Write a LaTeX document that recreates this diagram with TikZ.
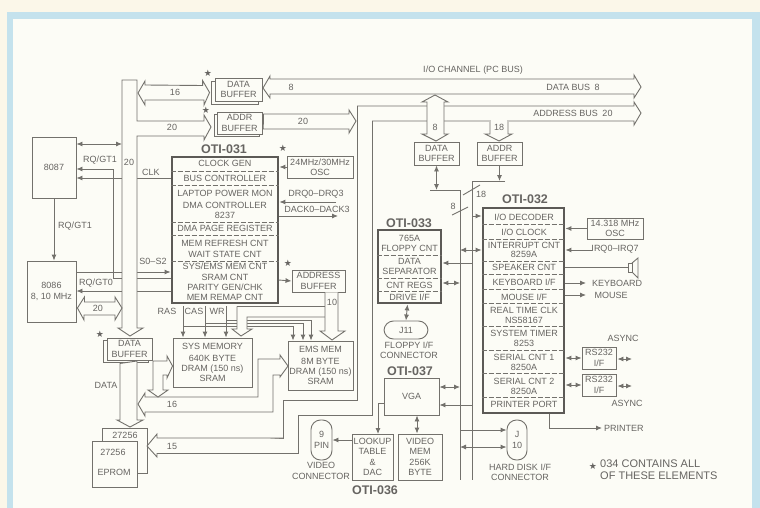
\documentclass[tikz,border=0pt]{standalone}
\usepackage{fontspec}
\setmainfont{Liberation Sans}
\newfontfamily\symfont{DejaVu Sans}
\usetikzlibrary{arrows.meta}
\definecolor{paper}{HTML}{FCFCF6}
\definecolor{edge}{HTML}{FBF7E9}
\definecolor{band}{HTML}{C4E2ED}
\definecolor{ink}{HTML}{73716C}
\definecolor{word}{HTML}{666461}
\tikzset{
  lbl/.style={font=\fontsize{9}{10.3}\selectfont,text=word,inner sep=0pt,align=center},
  chiptitle/.style={font=\bfseries\fontsize{12.5}{14}\selectfont,text=word,inner sep=0pt},
  box/.style={draw=ink,fill=paper,line width=0.9pt,inner sep=0pt,font=\fontsize{9}{10.3}\selectfont,text=word,align=center},
  chip/.style={draw=ink!80!black,line width=2.8pt,fill=paper,inner sep=0pt},
  pill/.style={box,rounded corners=9.5pt},
  wire/.style={draw=ink,line width=0.9pt},
  sig/.style={wire,-{Latex[length=6pt,width=5pt]}},
  bisig/.style={wire,{Latex[length=6pt,width=5pt]}-{Latex[length=6pt,width=5pt]}},
  bus/.style={draw=ink,line width=0.9pt,fill=paper,line join=miter},
  sep/.style={draw=ink,line width=0.8pt,dash pattern=on 5pt off 2pt},
  star/.style={font=\symfont\fontsize{9}{9}\selectfont,text=word,inner sep=0pt}
}
\begin{document}
\begin{tikzpicture}[x=1pt,y=-1pt]
\useasboundingbox (0,0) rectangle (760,508);
\fill[edge] (0,0) rectangle (760,508);
\fill[band] (7,12) rectangle (760,508);
\fill[paper] (13,19) rectangle (752,508);

\coordinate (ctlA) at (122,178);
\coordinate (ctlB) at (122,272);
\coordinate (ctlC) at (113,278);
\coordinate (ctlD) at (122,291);
\coordinate (snoop) at (113,169);

% chips
\node[chip,minimum width=106,minimum height=146] (oti31) at (225,230) {};
\node[chiptitle] (oti31t) at (224,149) {OTI-031};
\foreach \y/\txt in {163/CLOCK GEN,178/BUS CONTROLLER,193/LAPTOP POWER MON,205/DMA CONTROLLER,215/8237,228/DMA PAGE REGISTER,243/MEM REFRESH CNT,254/WAIT STATE CNT,266/{SYS/EMS MEM CNT},277/SRAM CNT,287/{PARITY GEN/CHK},297/MEM REMAP CNT}
  \node[lbl] (a\y) at (225,\y) {\txt};
\foreach \y in {171,185,222,235,261}
  \draw[sep] (oti31.west |- 0,\y) -- (oti31.east |- 0,\y);

\node[chip,minimum width=63,minimum height=73] (oti33) at (409.5,266.5) {};
\node[chiptitle] (oti33t) at (409,223) {OTI-033};
\foreach \y/\txt in {238/765A,248/FLOPPY CNT,261/DATA,271/SEPARATOR,285/CNT REGS,297/{DRIVE I/F}}
  \node[lbl] (c\y) at (409.5,\y) {\txt};
\foreach \y in {255,278,291}
  \draw[sep] (oti33.west |- 0,\y) -- (oti33.east |- 0,\y);

\node[chip,minimum width=81,minimum height=205] (oti32) at (523.5,310.5) {};
\node[chiptitle] (oti32t) at (525,199) {OTI-032};
\foreach \y/\txt in {217/{I/O DECODER},232/{I/O CLOCK},245/INTERRUPT CNT,254/8259A,267/SPEAKER CNT,282/{KEYBOARD I/F},297/{MOUSE I/F},310/REAL TIME CLK,320/NS58167,333/SYSTEM TIMER,343/8253,357/SERIAL CNT 1,367/8250A,381/SERIAL CNT 2,391/8250A,404/PRINTER PORT}
  \node[lbl] (b\y) at (524,\y) {\txt};
\foreach \y in {224,239,261,274,289,303,326,350,373,397}
  \draw[sep] (oti32.west |- 0,\y) -- (oti32.east |- 0,\y);

% boxes
\node[box,minimum width=44,minimum height=61] (fpu) at (54,167.5) {8087};
\node[box,minimum width=49,minimum height=61] (cpu) at (51.5,291.5) {8086\\8, 10 MHz};
\node[box,minimum width=66,minimum height=22] (osc) at (320,167) {24MHz/30MHz\\OSC};
\node[box,minimum width=53,minimum height=22] (adrbuf) at (318.5,281) {ADDRESS\\BUFFER};
\node[box,minimum width=79,minimum height=49] (sysmem) at (212.5,362.5) {SYS MEMORY\\[1.5pt]640K BYTE\\DRAM (150 ns)\\SRAM};
\node[box,minimum width=65,minimum height=49] (emsmem) at (320.5,365.5) {EMS MEM\\[1.5pt]8M BYTE\\DRAM (150 ns)\\SRAM};
\node[box,minimum width=45,minimum height=23] (dbufM) at (436.5,153.5) {DATA\\BUFFER};
\node[box,minimum width=45,minimum height=23] (abufM) at (499.5,153.5) {ADDR\\BUFFER};
\node[box,minimum width=55,minimum height=37] (vga) at (411.5,396.5) {VGA};
\node[box,minimum width=41,minimum height=46] (lookup) at (372.5,457) {LOOKUP\\TABLE\\\&\\DAC};
\node[box,minimum width=44,minimum height=46] (vidmem) at (420,457) {VIDEO\\MEM\\256K\\BYTE};
\node[box,minimum width=56,minimum height=21] (osc32) at (615,228.5) {14.318 MHz\\OSC};
\node[box,minimum width=34,minimum height=22] (rsA) at (599,358) {RS232\\I/F};
\node[box,minimum width=34,minimum height=22] (rsB) at (599,385) {RS232\\I/F};
\node[pill,minimum width=44,minimum height=18] (jeleven) at (406,330) {J11};
\node[pill,minimum width=21,minimum height=40] (ninepin) at (321.5,440) {9\\PIN};
\node[pill,minimum width=20,minimum height=40] (jten) at (517,440) {J\\10};

% shadowed buffers
\node[box,minimum width=47,minimum height=23] (dbufTs) at (234.5,92.5) {};
\node[box,minimum width=47,minimum height=23] (dbufT) at (238.5,89.5) {DATA\\BUFFER};
\node[box,minimum width=45,minimum height=22] (abufTs) at (236.5,125) {};
\node[box,minimum width=45,minimum height=22] (abufT) at (239.5,123) {ADDR\\BUFFER};
\node[box,minimum width=45,minimum height=22] (dbufLs) at (125.5,351) {};
\node[box,minimum width=45,minimum height=22] (dbufL) at (129.5,349) {DATA\\BUFFER};

% eprom pair
\node[box,minimum width=45,minimum height=45] (romB) at (124.5,450.5) {};
\node[lbl] (romBt) at (125,435) {27256};
\node[box,minimum width=45,minimum height=46] (romA) at (114.5,464) {};
\node[lbl] (romAt) at (113,452) {27256};
\node[lbl] (romAe) at (114,472) {EPROM};

% thin lines crossing the left bus
\draw[sig] (oti31.west |- ctlA) -- (fpu.east |- ctlA);
\draw[sig] (snoop) -- (fpu.east |- snoop);
\draw[wire] (snoop) -- (ctlC);
\draw[wire] (ctlC) -- (oti31.west |- ctlC);
\draw[sig] (cpu.east |- ctlB) -- (oti31.west |- ctlB);
\draw[sig] (oti31.west |- ctlD) -- (cpu.east |- ctlD);

% left bus
\draw[bus] (122,336) ++(-4,-8) -- (122,328) -- (122,80) -- (137,80) -- (137,121) -- (204,121) -- (204,115) -- (211,127) -- (204,140) -- (204,136) -- (137,136) -- (137,328) -- (143,328) -- (130,336) -- cycle;
\draw[bus] (dbufTs.west) ++(-1,0) -- ++(-7,-12) -- ++(0,5) -- (145,85) -- (145,81) -- (138,93) -- (145,105) -- (145,100) -- (204,100) -- (204,105) -- cycle;
\draw[bisig] (fpu.east |- 0,144) -- (122,144);
\draw[bus] (cpu.east |- 0,308) ++(1,0) -- ++(7,-11) -- ++(0,5) -- (115,302) -- (115,297) -- (122,308) -- (115,320) -- (115,315) -- (84,315) -- (84,320) -- cycle;
\draw[sig] (fpu.south) -- (cpu.north -| fpu.south);

% bus below the lower data buffer
\draw[bus] (dbufLs.south -| 120,0) ++(0,1) -- (120,420) -- (117,420) -- (130,427) -- (143,420) -- (137,420) -- (137,361) -- cycle;

% system bus fed by the address buffers
\draw[bus] (263,88) -- (270,76) -- (270,79) -- (634,79) -- (634,75) -- (641,87) -- (634,98) -- (634,94) -- (270,94) -- (270,98) -- cycle;
\draw[bus] (abufT.east) ++(1,-1) -- ++(0,-8) -- (349,114) -- (349,110) -- (356,121) -- (349,133) -- (349,129) -- (263,129) -- cycle;
\draw[bus] (372,121) -- (634,121) -- (634,125) -- (641,113) -- (634,102) -- (634,106) -- (357,106);
\draw[wire] (357,106) -- (357,400) -- (283,400) -- (283,438) -- (157,438);
\draw[wire] (372,121) -- (372,415) -- (298,415) -- (298,453) -- (157,453);
\draw[bus] (147,446) -- (157,434) -- (157,438) -- (283,438);
\draw[wire] (147,446) -- (157,457) -- (157,453);

% memory data bus
\draw[bus] (288,366) -- (280,355) -- (280,359) -- (258,359) -- (258,397) -- (145,397) -- (145,393) -- (138,404) -- (145,416) -- (145,412) -- (273,412) -- (273,375) -- (280,375) -- (280,377) -- cycle;
\draw[bus] (sysmem.west |- 0,366) -- (167,356) -- (167,361) -- (153,361) -- (153,390) -- (148,390) -- (158,397) -- (168,390) -- (163,390) -- (163,375) -- (167,375) -- (167,378) -- cycle;

% taps on the system bus
\draw[bus] (435,95) -- (448,102) -- (444,102) -- (444,134) -- (448,134) -- (436,141) -- (422,134) -- (427,134) -- (427,102) -- (422,102) -- cycle;
\draw[bus,fill=paper] (490,122) -- (490,134) -- (485,134) -- (499,141) -- (512,134) -- (508,134) -- (508,122);
\fill[paper] (491,120) rectangle (507,123);

% control lines of the memories
\draw[wire] (oti31.south -| 183,0) ++(0,2) -- (183,326) -- (293,326);
\draw[wire] (oti31.south -| 205,0) ++(0,2) -- (205,323) -- (303,323);
\draw[wire] (oti31.south -| 226,0) ++(0,2) -- (226,320) -- (311,320);
\draw[sig] (183,326) -- (sysmem.north -| 183,0);
\draw[sig] (205,323) -- (sysmem.north -| 205,0);
\draw[sig] (226,320) -- (sysmem.north -| 226,0);
\draw[sig] (293,326) -- (emsmem.north -| 293,0);
\draw[sig] (303,323) -- (emsmem.north -| 303,0);
\draw[sig] (311,320) -- (emsmem.north -| 311,0);
\draw[bus] (oti31.south -| 237,0) ++(0,2) -- (237,329) -- (232,329) -- (241,336) -- (252,329) -- (247,329) -- (247,317) -- (325,317);
\draw[wire] (325,306) -- (237,306);
\draw[bus] (adrbuf.south -| 325,0) -- (325,331) -- (320,331) -- (332,340) -- (345,331) -- (338,331) -- (adrbuf.south -| 338,0);

% centre buses
\coordinate (dataTop) at (460,190);
\coordinate (addrTop) at (472,181);
\draw[wire] (430,190) -- (dataTop) -- (460,480);
\draw[wire] (505,181) -- (addrTop) -- (472,480);
\draw[wire] (452,215) -- (468,207);
\draw[wire] (463,195) -- (480,185);
\draw[bisig] (dbufM.south) -- (dbufM.south |- dataTop);
\draw[sig] (abufM.south) -- (abufM.south |- addrTop);

% links of the chips
\draw[sig] (osc.west) -- (oti31.east |- osc.west);
\draw[sig] (336,202) -- (oti31.east |- 0,202);
\draw[sig] (oti31.east |- 0,216) -- (338,216);
\draw[sig] (adrbuf.west) ++(-13,-1) -- (adrbuf.west);
\draw[sig] (472,263) -- (oti33.east |- 0,263);
\draw[bisig] (oti33.east |- 0,283) -- (460,283);
\draw[bisig] (oti33.south) ++(-2,0) -- (jeleven.north);
\draw[sig] (472,216) -- (oti32.west |- 0,216);
\draw[bisig] (460,250) -- (oti32.west |- 0,250);
\draw[bisig] (vga.east |- 0,387) -- (460,387);
\draw[sig] (472,405) -- (vga.east |- 0,405);
\draw[wire] (vga.west |- 0,403) -- (378,403);
\draw[sig] (378,403) -- (378,434);
\draw[bisig] (vga.south -| 417,0) -- (vidmem.north -| 417,0);
\draw[sig] (lookup.west |- ninepin.east) -- (ninepin.east);
\draw[sig] (460,430) -- (jten.west |- 0,430);
\draw[bisig] (460,447) -- (jten.west |- 0,447);
\draw[sig] (osc32.west) -- (oti32.east |- osc32.west);
\draw[sig] (592,250) -- (oti32.east |- 0,250);
\draw[sig] (oti32.east |- 0,283) -- (586,283);
\draw[sig] (oti32.east |- 0,295) -- (586,295);
\draw[bisig] (oti32.east |- rsA.west) -- (rsA.west);
\draw[bisig] (oti32.east |- rsB.west) -- (rsB.west);
\coordinate (asyncA) at (632,359);
\coordinate (asyncB) at (632,386);
\draw[bisig] (rsA.east) ++(1,1) -- (asyncA);
\draw[bisig] (rsB.east) ++(1,1) -- (asyncB);
\draw[wire] (oti32.south -| 549,0) -- (549,428);
\draw[sig] (549,428) -- (602,428);

% speaker
\coordinate (spk) at (628,267);
\draw[wire] (oti32.east |- spk) -- (spk);
\draw[wire] (628,263) rectangle (632,272);
\draw[wire] (632,263) -- (638,258) -- (638,278) -- (632,272);

% labels
\node[lbl] (iochan) at (473,70) {I/O CHANNEL (PC BUS)};
\node[lbl] (databus) at (573,87) {DATA BUS\enspace8};
\node[lbl] (addrbus) at (573,113) {ADDRESS BUS\enspace20};
\node[lbl] (nEight) at (291,87) {8};
\node[lbl] (nTwentyB) at (303,121) {20};
\node[lbl] (nSixteen) at (175,92) {16};
\node[lbl] (nTwentyA) at (172,127) {20};
\node[lbl] (nTwentyC) at (129,162) {20};
\node[lbl] (nTwentyD) at (98,308) {20};
\node[lbl] (rqgtA) at (100,160) {RQ/GT1};
\node[lbl] (rqgtB) at (75,226) {RQ/GT1};
\node[lbl] (rqgtC) at (96,283) {RQ/GT0};
\node[lbl] (clk) at (151,172) {CLK};
\node[lbl] (sline) at (153,261) {S0--S2};
\node[lbl] (drq) at (316,194) {DRQ0--DRQ3};
\node[lbl] (dack) at (317,209) {DACK0--DACK3};
\node[lbl] (ras) at (167,311) {RAS};
\node[lbl] (cas) at (194,311) {CAS};
\node[lbl] (wr) at (217,311) {WR};
\node[lbl] (nTen) at (332,302) {10};
\node[lbl] (datal) at (106,385) {DATA};
\node[lbl] (nSixteenB) at (172,404) {16};
\node[lbl] (nFifteen) at (172,446) {15};
\node[lbl] (nEightB) at (435,127) {8};
\node[lbl] (nEighteen) at (499,127) {18};
\node[lbl] (nEighteenB) at (481,194) {18};
\node[lbl] (nEightC) at (453,206) {8};
\node[lbl] (floppy) at (409,350) {FLOPPY I/F\\CONNECTOR};
\node[chiptitle] (oti37t) at (410,371) {OTI-037};
\node[chiptitle] (oti36t) at (375,490) {OTI-036};
\node[lbl] (vidcon) at (321,471) {VIDEO\\CONNECTOR};
\node[lbl] (hard) at (520,472) {HARD DISK I/F\\CONNECTOR};
\node[lbl] (irq) at (615,249) {IRQ0--IRQ7};
\node[lbl] (keyb) at (617,283) {KEYBOARD};
\node[lbl] (mouse) at (611,295) {MOUSE};
\node[lbl] (asyncT) at (623,338) {ASYNC};
\node[lbl] (asyncL) at (627,403) {ASYNC};
\node[lbl,anchor=west] (printer) at (604,428) {PRINTER};
\node[star] (starA) at (208,73) {★};
\node[star] (starB) at (206,110) {★};
\node[star] (starC) at (283,148) {★};
\node[star] (starD) at (288,263) {★};
\node[star] (starE) at (100,334) {★};
\node[star] (starF) at (593,466) {★};
\node[lbl,anchor=north west,align=left,font=\fontsize{11}{12}\selectfont] (note) at (600,460) {034 CONTAINS ALL\\OF THESE ELEMENTS};
\end{tikzpicture}
\end{document}
